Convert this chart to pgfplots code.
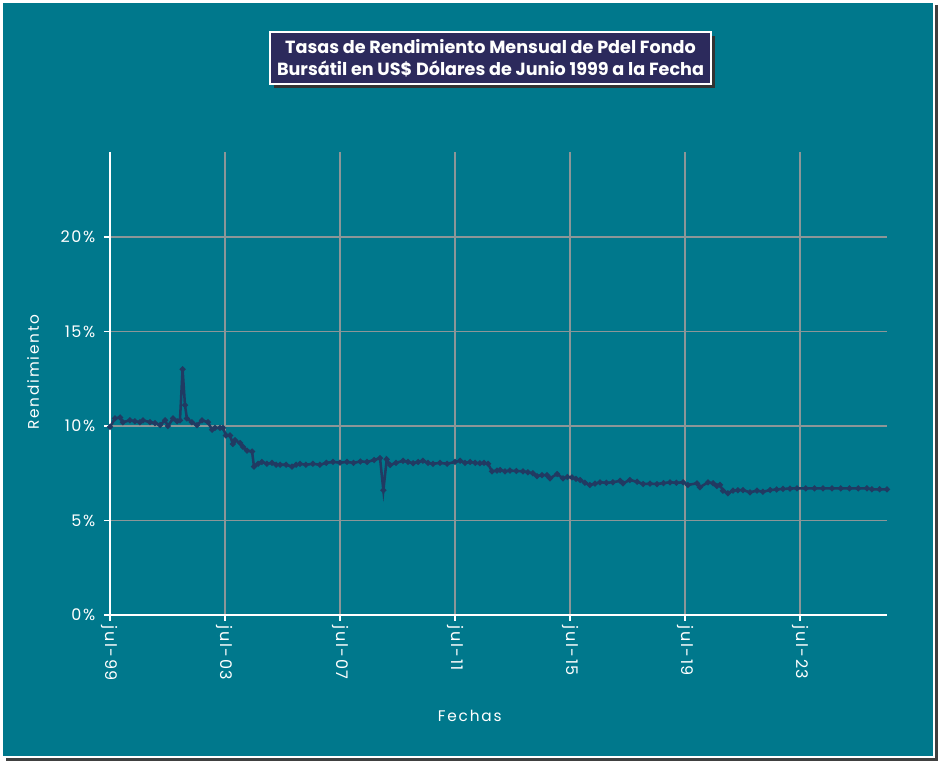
\documentclass[border=0pt]{standalone}
\usepackage{fontspec}
\setmainfont{Poppins}
\usepackage{pgfplots}
\pgfplotsset{compat=1.18}
\definecolor{bg}{RGB}{0,120,140}
\definecolor{navy}{RGB}{33,58,98}
\definecolor{tbox}{RGB}{44,42,92}
\definecolor{grd}{RGB}{140,150,152}
\begin{document}
\begin{tikzpicture}[x=0.75pt,y=0.75pt]
\path[use as bounding box] (0,0) rectangle (940,762);
\fill[black!75] (6,1) rectangle (938,757);
\fill[bg] (2,5) rectangle (934,760);
\draw[white, line width=0.9pt] (2,5) rectangle (934,760);
% title
\fill[black!80] (274,674) rectangle (715,726);
\fill[tbox] (270,678) rectangle (711,730);
\draw[white, line width=1.5pt] (270,678) rectangle (711,730);
\node[text=white, font=\bfseries\fontsize{13.2}{16.5}\selectfont, align=center] at (490.5,704)
  {Tasas de Rendimiento Mensual de Pdel Fondo\\Bursátil en US\$ Dólares de Junio 1999 a la Fecha};
\begin{axis}[
  at={(82.5pt,110.25pt)}, anchor=south west,
  scale only axis, width=582.75pt, height=347.25pt,
  xmin=0, xmax=324.3, ymin=0, ymax=24.5,
  axis lines=left,
  axis line style={white, line width=1.1pt, -},
  grid=major,
  major grid style={grd, line width=1.2pt},
  tick style={white, line width=1pt},
  tick align=outside,
  major tick length=4.5pt,
  xtick={0,48,96,144,192,240,288},
  xticklabels={jul-99,jul-03,jul-07,jul-11,jul-15,jul-19,jul-23},
  ytick={0,5,10,15,20},
  yticklabel={\pgfmathprintnumber{\tick}\%},
  /pgf/number format/assume math mode=true,
  tick label style={text=white, font=\fontsize{12}{13}\selectfont\addfontfeature{LetterSpace=10}},
  y tick label style={xshift=-3pt},
  x tick label style={rotate=-90, anchor=west, xshift=0pt},
  xlabel={Fechas}, ylabel={Rendimiento},
  label style={text=white, font=\fontsize{11.5}{13}\selectfont\addfontfeature{LetterSpace=12}},
  xlabel style={at={(axis description cs:0.463,-0.218)}, anchor=center},
  ylabel style={at={(axis description cs:-0.099,0.525)}, anchor=center, rotate=0},
  clip=false,
]
\addplot[navy, line width=1.9pt, mark=*, mark size=1.1pt, mark options={fill=navy}] coordinates {
(0,9.95) (2.1,10.4) (4.2,10.45) (5.4,10.2) (8.3,10.3) (10.4,10.25) (12.5,10.2) (13.8,10.3)
(16.7,10.2) (18.8,10.15) (20.9,10.05) (23.0,10.3) (24.2,10.0) (26.3,10.4) (28.0,10.25) (29.2,10.3)
(30.3,13.0) (31.3,11.1) (32.1,10.4) (34.2,10.2) (36.3,10.05) (38.4,10.3) (40.9,10.2)
(42.6,9.8) (43.8,9.9) (45.9,9.9) (47.2,9.9) (48.4,9.5) (50.1,9.5) (51.3,9.05)
(52.2,9.25) (54.3,9.1) (55.5,8.9) (57.2,8.7) (59.3,8.65) (60.1,7.85) (61.8,8.0) (63.4,8.1)
(65.5,8.0) (67.6,8.05) (69.3,7.95) (71.0,7.95) (73.5,7.95) (76.0,7.85) (77.7,7.95) (79.3,8.0)
(81.8,7.95) (84.7,8.0) (87.6,7.95) (90.3,8.05) (93.1,8.1)
(96.0,8.06) (98.9,8.1) (101.6,8.05) (104.5,8.12) (107.3,8.1) (110.2,8.2) (112.7,8.3) (114.1,6.6) (115.5,8.24) (116.9,7.94)
(119.4,8.05) (122.3,8.16) (124.4,8.1) (126.5,8.03) (128.6,8.1) (130.6,8.16) (132.7,8.05) (134.8,8.0) (137.7,8.05) (140.7,8.0) (144.0,8.1) (146.1,8.16)
(148.2,8.05) (150.3,8.1) (152.4,8.05) (154.4,8.03) (156.1,8.05) (157.8,8.0) (159.4,7.6) (161.5,7.64) (162.8,7.67) (164.9,7.6) (166.9,7.64)
(169.6,7.62) (172.4,7.6) (174.4,7.55) (176.5,7.5) (178.2,7.35) (180.3,7.4) (182.4,7.4) (183.6,7.23) (186.6,7.46) (189.1,7.23)
(190.9,7.3) (192.8,7.28) (194.5,7.2) (196.2,7.14) (198.2,7.0) (200.3,6.88) (202.4,6.95) (204.5,7.02) (207.2,7.0) (209.9,7.02) (212.9,7.1) (214.1,6.97)
(217.0,7.14) (220.0,7.05) (222.5,6.93) (225.4,6.95) (228.3,6.93) (231.0,6.98) (233.7,7.02) (236.4,7.0) (239.2,7.02) (241.2,6.88)
(245.0,6.97) (246.2,6.76) (249.6,7.02) (251.7,6.97) (253.3,6.83) (254.6,6.88) (255.8,6.58)
(257.9,6.44) (260.0,6.58) (262.1,6.6) (264.2,6.61) (267.1,6.49) (270.0,6.58) (272.5,6.52) (275.5,6.61)
(278.2,6.64) (280.9,6.67) (283.8,6.69) (286.7,6.7) (290.4,6.7) (294.0,6.7) (297.6,6.7) (301.3,6.7) (305.0,6.7) (308.6,6.7) (312.3,6.7) (315.9,6.7) (318.0,6.65) (321.2,6.65) (324.3,6.65)
};
\end{axis}
\end{tikzpicture}
\end{document}
